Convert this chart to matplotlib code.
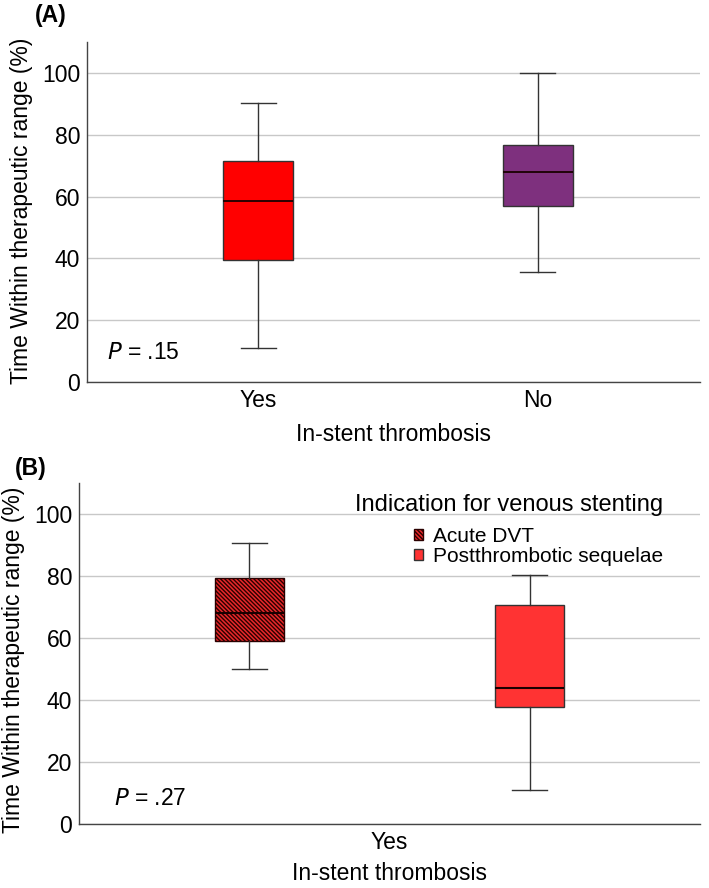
import matplotlib
matplotlib.use("Agg")
import matplotlib.pyplot as plt
from matplotlib.patches import Patch

plt.rcParams['font.family'] = ['Liberation Sans', 'DejaVu Sans']
plt.rcParams['hatch.linewidth'] = 1.0

# ---- Data ----
a_categories = ["Yes", "No"]
a_whislo = [11.1, 35.5]
a_q1 = [39.4, 57.1]
a_med = [58.7, 68.0]
a_q3 = [71.5, 76.6]
a_whishi = [90.3, 100.0]
a_colors = ["#FF0000", "#7E307E"]
a_pvalue = ".15"

b_category = "Yes"
b_groups = ["Acute DVT", "Postthrombotic sequelae"]
b_whislo = [50.0, 11.0]
b_q1 = [59.1, 37.6]
b_med = [68.1, 43.9]
b_q3 = [79.3, 70.8]
b_whishi = [90.5, 80.2]
b_colors = ["#E8282A", "#FF3333"]
b_hatches = ["\\\\\\\\\\\\\\\\", None]
b_pvalue = ".27"

yticks = [0, 20, 40, 60, 80, 100]
ylabel = "Time Within therapeutic range (%)"
xlabel = "In-stent thrombosis"
legend_title = "Indication for venous stenting"

FS = 16.5
EDGE = "#333333"

fig = plt.figure(figsize=(7.09, 8.88), dpi=100)


def style_axes(ax):
    ax.set_ylim(0, 110)
    ax.set_yticks(yticks)
    ax.tick_params(axis='both', length=0, labelsize=FS, pad=5)
    ax.yaxis.grid(True, color="#c8c8c8", linewidth=1.0)
    ax.set_axisbelow(True)
    for s in ["top", "right"]:
        ax.spines[s].set_visible(False)
    for s in ["left", "bottom"]:
        ax.spines[s].set_color("#444444")
        ax.spines[s].set_linewidth(1.0)


def make_stats(lo, q1, med, q3, hi, label):
    return dict(whislo=lo, q1=q1, med=med, q3=q3, whishi=hi, label=label, fliers=[])


# ---- Panel A ----
axA = fig.add_axes([0.1227, 0.5698, 0.8646, 0.3829])
style_axes(axA)
statsA = [make_stats(a_whislo[i], a_q1[i], a_med[i], a_q3[i], a_whishi[i], a_categories[i])
          for i in range(len(a_categories))]
bpA = axA.bxp(statsA, positions=list(range(len(a_categories))), widths=0.25,
              patch_artist=True, showfliers=False,
              boxprops=dict(edgecolor=EDGE, linewidth=1.0),
              whiskerprops=dict(color=EDGE, linewidth=1.0),
              capprops=dict(color=EDGE, linewidth=1.0),
              medianprops=dict(color="#1a0000", linewidth=1.3),
              capwidths=0.125)
for patch, c in zip(bpA['boxes'], a_colors):
    patch.set_facecolor(c)
axA.set_xlim(-0.611, 1.579)
axA.set_xticks(range(len(a_categories)))
axA.set_xticklabels(a_categories)
axA.set_xlabel(xlabel, fontsize=FS, labelpad=8)
axA.text(0.033, 0.088, "$P$ = " + a_pvalue, transform=axA.transAxes, fontsize=FS,
         va="center", ha="left")
fig.text(0.031, 0.763, ylabel, rotation=90, fontsize=FS, ha="center", va="center")
fig.text(0.049, 0.983, "(A)", fontsize=FS, fontweight="bold", ha="left", va="center")

# ---- Panel B ----
axB = fig.add_axes([0.1114, 0.0721, 0.8759, 0.3840])
style_axes(axB)
offsets = [-0.451, 0.451]
statsB = [make_stats(b_whislo[i], b_q1[i], b_med[i], b_q3[i], b_whishi[i], b_groups[i])
          for i in range(len(b_groups))]
bpB = axB.bxp(statsB, positions=offsets, widths=0.225,
              patch_artist=True, showfliers=False,
              boxprops=dict(edgecolor=EDGE, linewidth=1.0),
              whiskerprops=dict(color=EDGE, linewidth=1.0),
              capprops=dict(color=EDGE, linewidth=1.0),
              medianprops=dict(color="#1a0000", linewidth=1.5),
              capwidths=0.112)
for patch, c, h in zip(bpB['boxes'], b_colors, b_hatches):
    patch.set_facecolor(c)
    if h:
        patch.set_hatch(h)
        patch.set_edgecolor("#2a0000")
axB.set_xlim(-1, 1)
axB.set_xticks([0])
axB.set_xticklabels([b_category])
axB.set_xlabel(xlabel, fontsize=FS, labelpad=6)
axB.text(0.057, 0.075, "$P$ = " + b_pvalue, transform=axB.transAxes, fontsize=FS,
         va="center", ha="left")
fig.text(0.019, 0.257, ylabel, rotation=90, fontsize=FS, ha="center", va="center")
fig.text(0.021, 0.472, "(B)", fontsize=FS, fontweight="bold", ha="left", va="center")

handles = [Patch(facecolor=b_colors[i], edgecolor="#2a0000" if b_hatches[i] else EDGE,
                 hatch=b_hatches[i], linewidth=1.0, label=b_groups[i])
           for i in range(len(b_groups))]
leg = axB.legend(handles=handles, title=legend_title, loc="upper right",
                 bbox_to_anchor=(0.96, 1.005), frameon=False, fontsize=15,
                 title_fontsize=17, handlelength=0.45, handleheight=0.45,
                 handletextpad=0.45, labelspacing=0.05, borderpad=0.1,
                 alignment="right")
leg.get_title().set_multialignment("left")
leg._legend_box.sep = 8

fig.savefig("out.png", dpi=100)
